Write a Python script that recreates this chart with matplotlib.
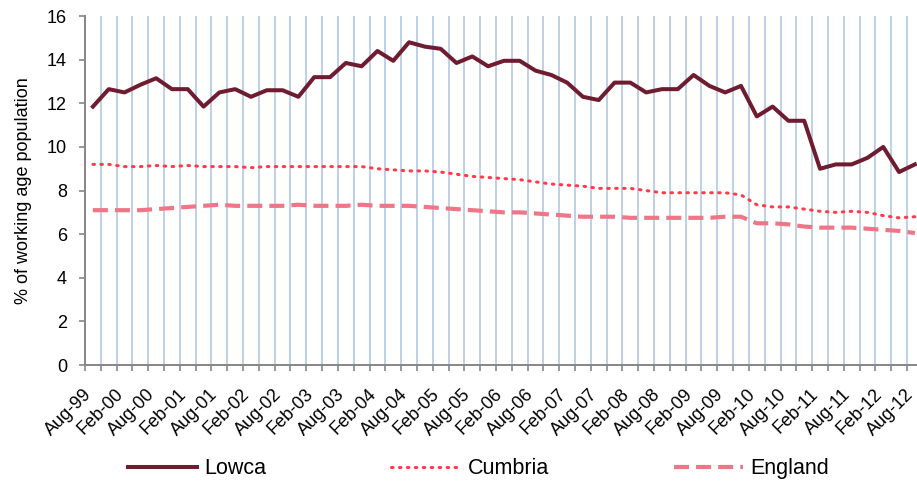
import numpy as np
import matplotlib
matplotlib.use("Agg")
import matplotlib.pyplot as plt
import matplotlib.transforms as mtransforms

plt.rcParams['font.family'] = ['Liberation Sans', 'DejaVu Sans']

# quarterly figures, Aug-99 to Aug-12
quarters = ["Aug-99", "Nov-99", "Feb-00", "May-00", "Aug-00", "Nov-00", "Feb-01", "May-01",
            "Aug-01", "Nov-01", "Feb-02", "May-02", "Aug-02", "Nov-02", "Feb-03", "May-03",
            "Aug-03", "Nov-03", "Feb-04", "May-04", "Aug-04", "Nov-04", "Feb-05", "May-05",
            "Aug-05", "Nov-05", "Feb-06", "May-06", "Aug-06", "Nov-06", "Feb-07", "May-07",
            "Aug-07", "Nov-07", "Feb-08", "May-08", "Aug-08", "Nov-08", "Feb-09", "May-09",
            "Aug-09", "Nov-09", "Feb-10", "May-10", "Aug-10", "Nov-10", "Feb-11", "May-11",
            "Aug-11", "Nov-11", "Feb-12", "May-12", "Aug-12"]

lowca = [11.85, 12.65, 12.5, 12.85, 13.15, 12.65, 12.65, 11.85, 12.5, 12.65,
         12.3, 12.6, 12.6, 12.3, 13.2, 13.2, 13.85, 13.7, 14.4, 13.95,
         14.8, 14.6, 14.5, 13.85, 14.15, 13.7, 13.95, 13.95, 13.5, 13.3,
         12.95, 12.3, 12.15, 12.95, 12.95, 12.5, 12.65, 12.65, 13.3, 12.8,
         12.5, 12.8, 11.4, 11.85, 11.2, 11.2, 9.0, 9.2, 9.2, 9.5,
         10.0, 8.85, 9.2]

cumbria = [9.2, 9.2, 9.1, 9.1, 9.15, 9.1, 9.15, 9.1, 9.1, 9.1,
           9.05, 9.1, 9.1, 9.1, 9.1, 9.1, 9.1, 9.1, 9.0, 8.95,
           8.9, 8.9, 8.85, 8.75, 8.65, 8.6, 8.55, 8.5, 8.4, 8.3,
           8.25, 8.2, 8.1, 8.1, 8.1, 8.0, 7.9, 7.9, 7.9, 7.9,
           7.9, 7.8, 7.35, 7.25, 7.25, 7.15, 7.05, 7.0, 7.05, 7.0,
           6.85, 6.75, 6.8]

england = [7.1, 7.1, 7.1, 7.1, 7.15, 7.2, 7.25, 7.3, 7.35, 7.3,
           7.3, 7.3, 7.3, 7.35, 7.3, 7.3, 7.3, 7.35, 7.3, 7.3,
           7.3, 7.25, 7.2, 7.15, 7.1, 7.05, 7.0, 7.0, 6.95, 6.9,
           6.85, 6.8, 6.8, 6.8, 6.75, 6.75, 6.75, 6.75, 6.75, 6.75,
           6.8, 6.8, 6.5, 6.5, 6.45, 6.35, 6.3, 6.3, 6.3, 6.25,
           6.2, 6.15, 6.05]

x = np.arange(len(quarters))

fig = plt.figure(figsize=(9.17, 4.88), dpi=100)
ax = fig.add_axes([0.0927, 0.252, 0.9136, 0.715])

grey = "#868686"

# vertical gridlines between categories (excel style)
bounds = np.arange(len(quarters) + 1) - 0.5
for b in bounds[1:]:
    ax.axvline(b, color="#B9CDE5", lw=1.3, zorder=0)

ax.plot(x, lowca, color="#701C30", lw=2.9, label="Lowca", zorder=3)
ax.plot(x, cumbria, color="#FF3B4B", lw=2.2, ls=(0, (0.5, 2.1)), dash_capstyle="round",
        label="Cumbria", zorder=2)
ax.plot(x, england, color="#EF7587", lw=3.0, ls=(0, (3.6, 1.7)), label="England", zorder=2)

ax.set_xlim(-0.5, len(quarters) - 0.5)
ax.set_ylim(0, 16)
ax.set_yticks(np.arange(0, 17, 2))

ax.set_xticks(x[::2])
ax.set_xticklabels(quarters[::2], rotation=45, ha="right", rotation_mode="anchor")
ax.set_xticks(bounds, minor=True)
ax.tick_params(axis="x", which="major", length=0, pad=15, labelsize=13)
ax.tick_params(axis="x", which="minor", length=4, width=1.2, color=grey, direction="out")
ax.tick_params(axis="y", length=4, width=1.2, color=grey, labelsize=13, pad=9)

# nudge the slanted labels a little to the left
shift = mtransforms.ScaledTranslation(-0.1, 0, fig.dpi_scale_trans)
for lbl in ax.get_xticklabels():
    lbl.set_transform(lbl.get_transform() + shift)

for s in ["top", "right"]:
    ax.spines[s].set_visible(False)
for s in ["left", "bottom"]:
    ax.spines[s].set_color(grey)
    ax.spines[s].set_linewidth(1.4)

ax.set_ylabel("% of working age population", fontsize=13, labelpad=11)

fig.legend(loc="center", bbox_to_anchor=(0.522, 0.039), ncol=3, frameon=False,
           fontsize=15.5, handlelength=3.2, handletextpad=0.35, columnspacing=5.8)

plt.savefig("out.png", dpi=100)
